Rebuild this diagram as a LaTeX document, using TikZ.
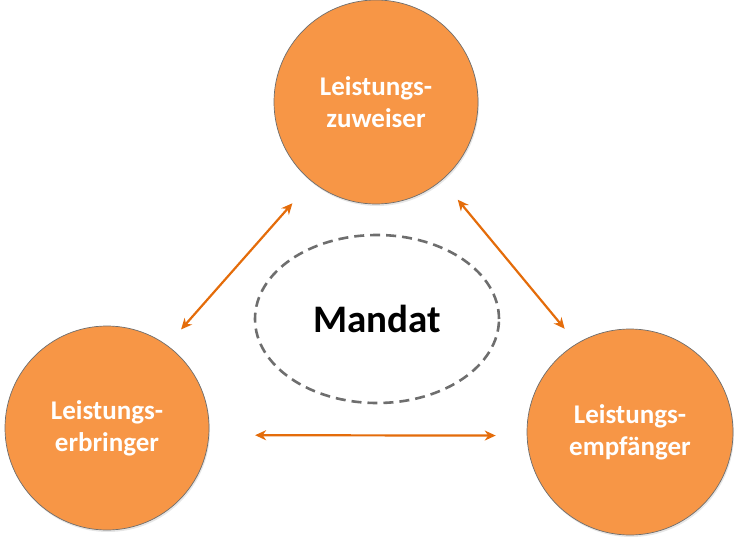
\documentclass[tikz,border=0pt]{standalone}
\usepackage{fontspec}
\setmainfont{Carlito}
\usetikzlibrary{arrows.meta,shapes.geometric,shadows}
\definecolor{kreisorange}{HTML}{F79646}
\definecolor{pfeilorange}{HTML}{E46C0A}
\definecolor{randgrau}{HTML}{6E6E6E}

\begin{document}
\begin{tikzpicture}[x=1pt, y=-1pt,
		rolle/.style={circle, fill=kreisorange, draw=randgrau, line width=0.7pt,
			minimum size=204pt, align=center, text=white,
			font=\fontsize{27}{32}\selectfont\bfseries,
			drop shadow={opacity=0.2, shadow xshift=1pt, shadow yshift=-2pt}},
		pfeil/.style={{Stealth[length=11pt,width=10pt,inset=3.5pt]}-{Stealth[length=11pt,width=10pt,inset=3.5pt]},
			pfeilorange, line width=2.2pt}]
		% Frame of the whole picture
		\useasboundingbox (0,0) rectangle (738,540);
		% The three parties
		\node[rolle] (zuweiser) at (376,102) {Leistungs-\\zuweiser};
		\node[rolle] (erbringer) at (107,428) {Leistungs-\\erbringer};
		\node[rolle, minimum size=206pt] (empfaenger) at (630,432) {Leistungs-\\empfänger};
		% Dashed ellipse in the middle
		\node[ellipse, draw=randgrau, dash pattern=on 10pt off 6pt, line width=2.6pt,
			minimum width=244pt, minimum height=168pt,
			font=\fontsize{39}{44}\selectfont\bfseries] (mandat) at (377,319) {Mandat};
		% Double arrows between the parties
		\foreach \von/\nach/\kurzA/\kurzB in {zuweiser.231/erbringer.54/29/21,
				zuweiser.310/empfaenger.121/25/19, erbringer.-4/empfaenger.182/46/31} {
			\draw[pfeil, shorten <=\kurzA pt, shorten >=\kurzB pt] (\von) -- (\nach);
		}
	\end{tikzpicture}
\end{document}
